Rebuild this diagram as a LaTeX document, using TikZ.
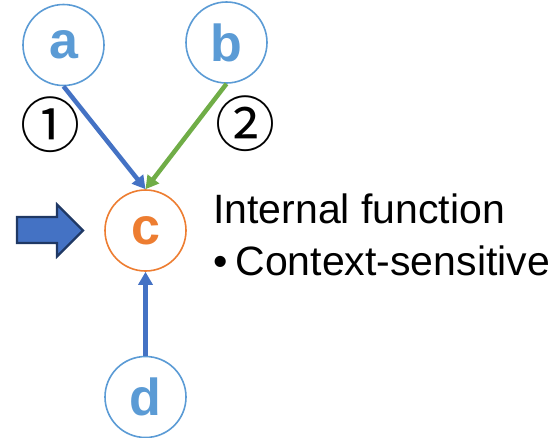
\documentclass[tikz,border=0pt]{standalone}
\usepackage{fontspec}
\setmainfont{Liberation Sans}
\newfontfamily\symfont{Noto Sans CJK JP}
\usetikzlibrary{arrows.meta}
\definecolor{nodeblue}{HTML}{5B9BD5}
\definecolor{arrowblue}{HTML}{4472C4}
\definecolor{arrowgreen}{HTML}{70AD47}
\definecolor{accentorange}{HTML}{ED7D31}
\definecolor{navy}{HTML}{1F3864}
\tikzset{
  vertex/.style={circle, draw=nodeblue, line width=1.6pt, minimum size=81pt, inner sep=0pt,
    text=nodeblue, font=\fontsize{52}{60}\selectfont\bfseries},
  focus/.style={vertex, draw=accentorange, text=accentorange},
  edge/.style={line width=4.5pt, -{Triangle[length=13pt,width=14pt]}},
  stepnum/.style={inner sep=0pt, font=\symfont\fontsize{60}{64}\selectfont},
  caption/.style={inner sep=0pt, anchor=base west, font=\fontsize{41}{46}\selectfont}
}
\begin{document}
\begin{tikzpicture}[x=1pt, y=-1pt]
  \useasboundingbox (0,0) rectangle (552,437);
  % nodes
  \node[vertex] (a) at (63.5,45) {a};
  \node[vertex] (b) at (226.5,42.5) {b};
  \node[focus]  (c) at (145.5,230.5) {c};
  \node[vertex] (d) at (145.5,397) {d};
  % connectors
  \draw[edge, arrowblue]  (a.south) -- (c.north);
  \draw[edge, arrowgreen] (b.south) -- (c.north);
  \draw[edge, arrowblue]  (d.north) -- (c.south);
  % step labels
  \node[stepnum] (s1) at (50,124.5) {①};
  \node[stepnum] (s2) at (245,123.5) {②};
  % input block arrow
  \draw[fill=arrowblue, draw=navy, line width=2.2pt, line join=miter]
    (17,217) -- (57,217) -- (57,204.5) -- (83,230.5) -- (57,256.5) -- (57,243) -- (17,243) -- cycle;
  % description
  \node[caption] (t1) at (213,223) {Internal function};
  \node[caption] (t2) at (213,275) {\textbullet\hspace{8pt}Context-sensitive};
\end{tikzpicture}
\end{document}
